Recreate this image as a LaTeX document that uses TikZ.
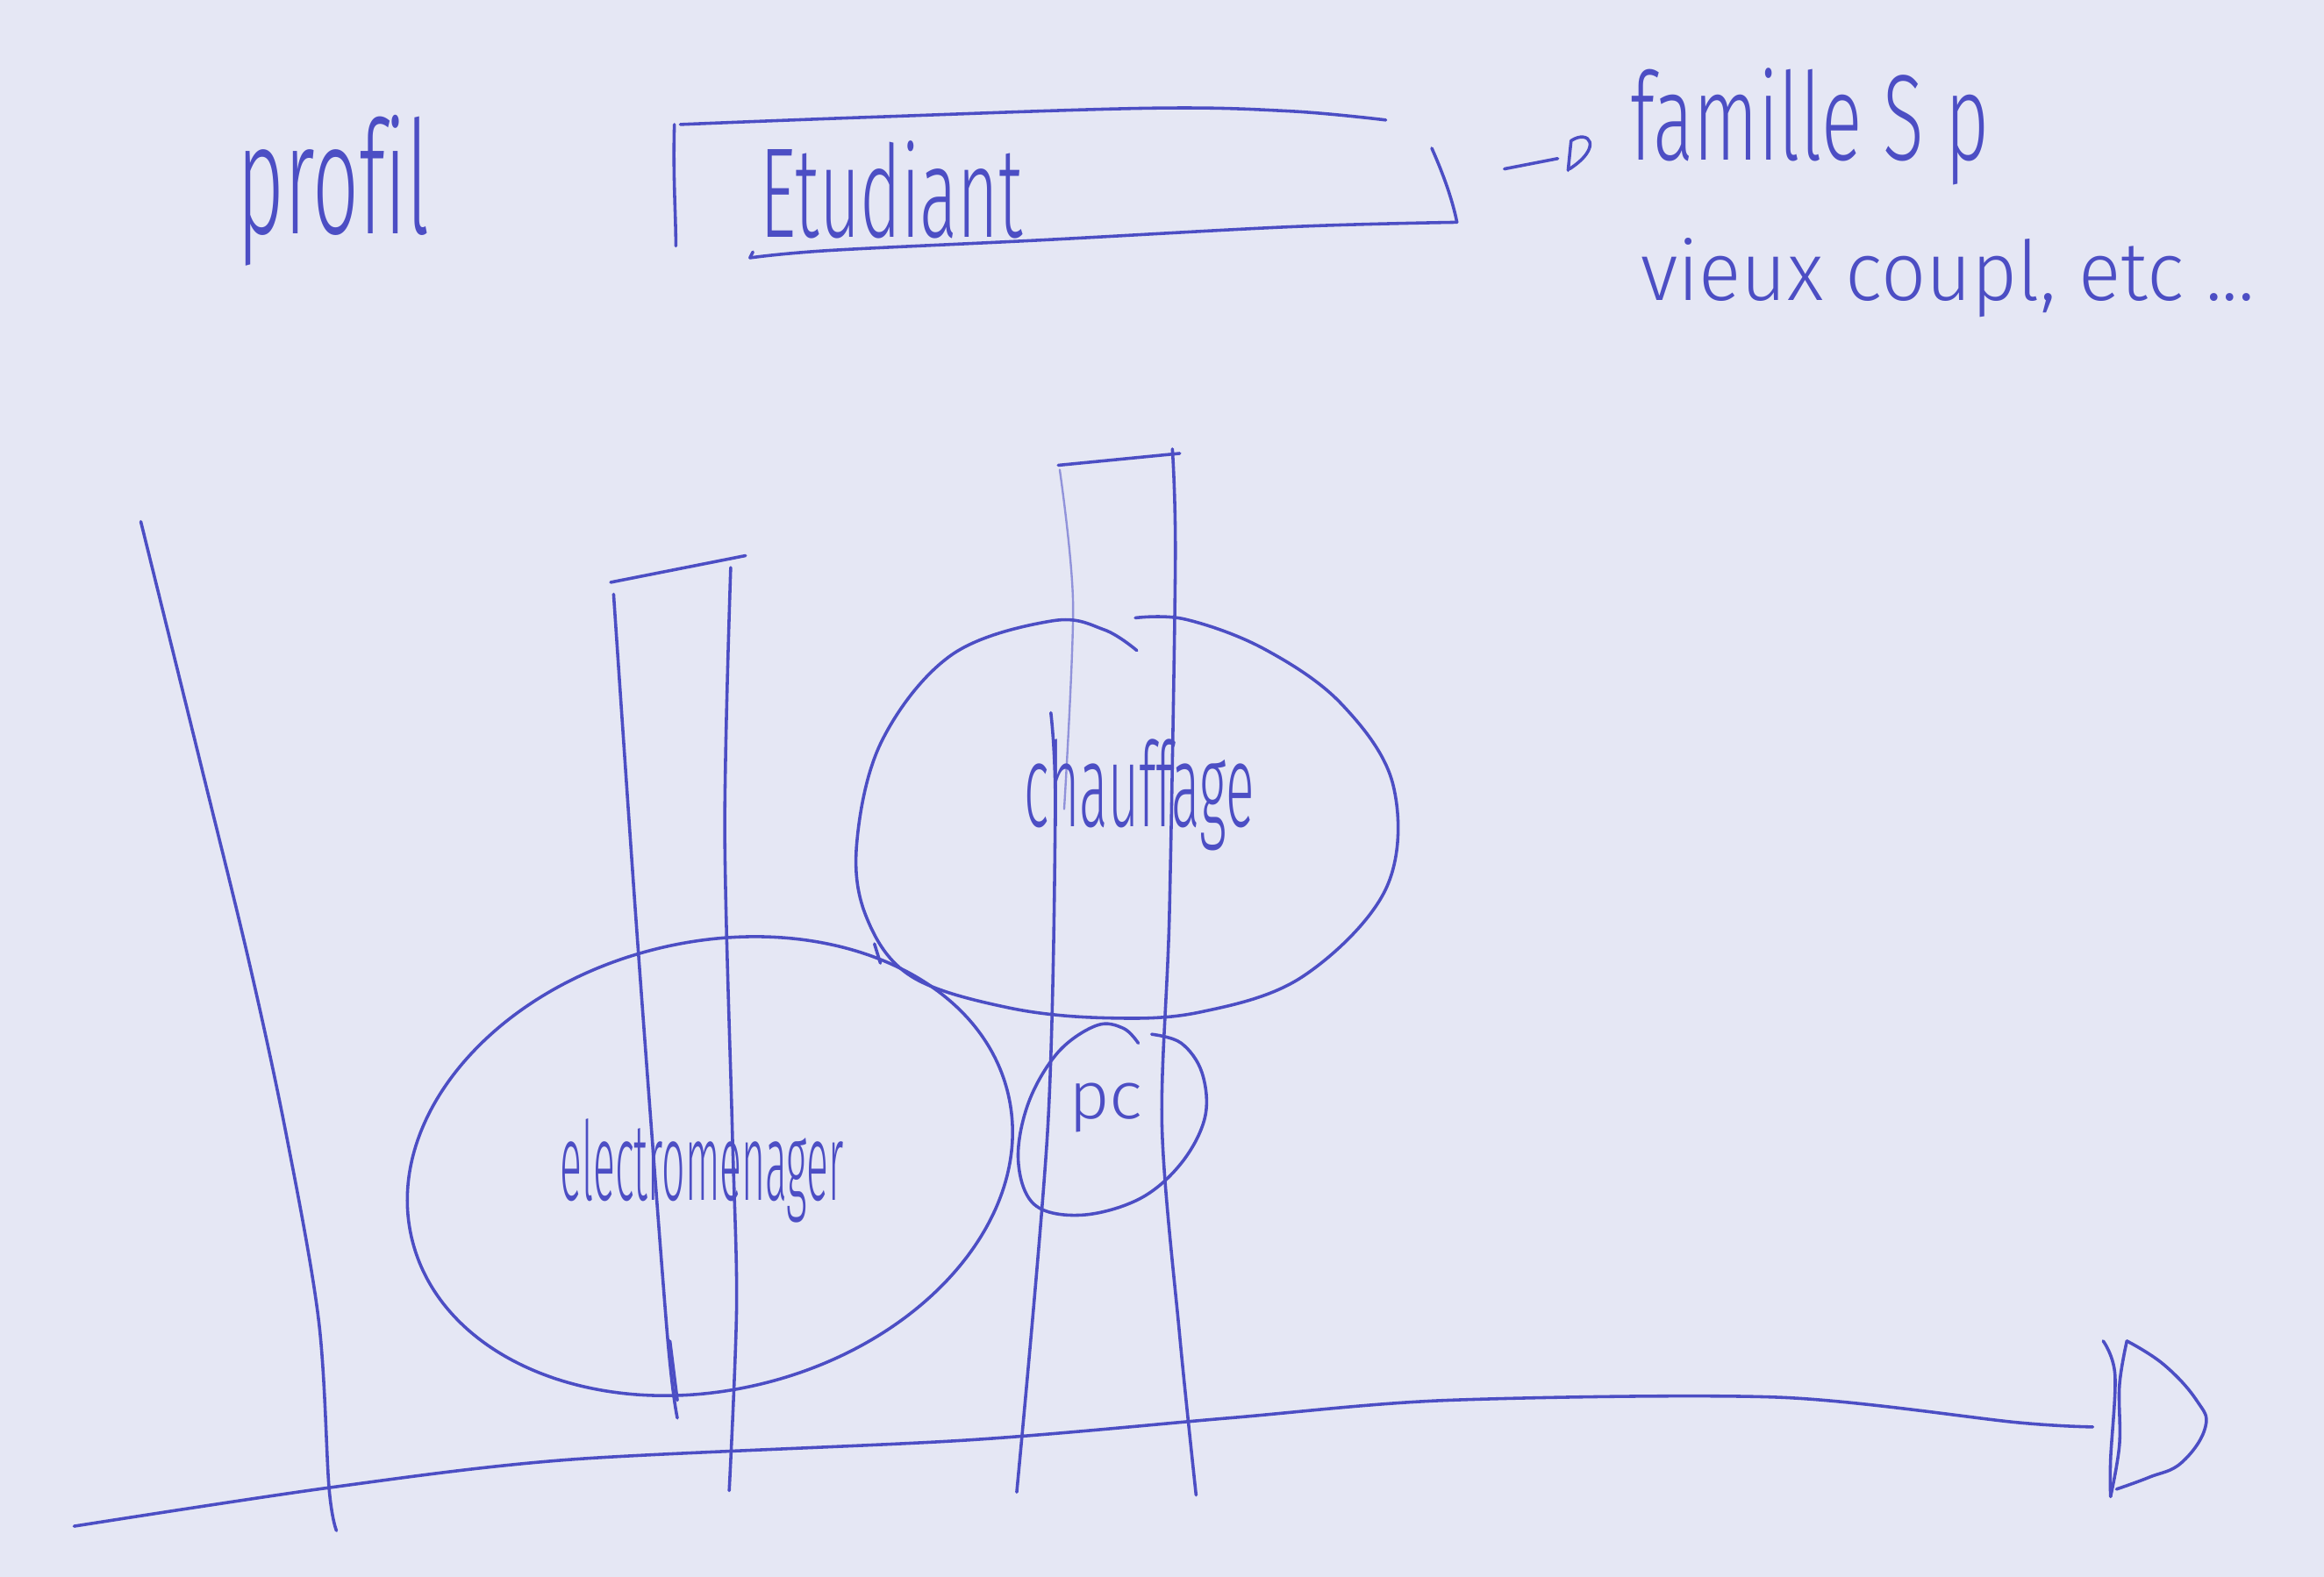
\documentclass[tikz,border=0pt]{standalone}
\usepackage{fontspec}
\setmainfont{Fira Sans Light}[Ligatures=CommonOff]
\definecolor{paper}{RGB}{229,231,244}
\definecolor{ink}{RGB}{76,78,196}
\tikzset{
  pen/.style={draw=ink, line width=0.6pt, line cap=round, line join=round},
  faintpen/.style={draw=ink!55!paper, line width=0.4pt, line cap=round},
  hand/.style={text=ink, inner sep=0pt, outer sep=0pt, anchor=base west},
}
% handwritten-looking label squeezed to a given width and height (cm)
\newcommand{\scribble}[3]{\resizebox{#1cm}{#2cm}{#3}}
\begin{document}
\begin{tikzpicture}[x=0.01cm, y=-0.01cm]
  \fill[paper] (0,0) rectangle (1568,1064);
  \useasboundingbox (0,0) rectangle (1568,1064);

  % ---- header: profile label and boxed example ----
  \node[hand] (profil) at (160,158) {\scribble{1.30}{0.80}{profil}};
  \node[hand] (etudiant) at (513,160) {\scribble{1.77}{0.65}{Etudiant}};
  \draw[pen] (455,84) .. controls (454,120) and (456,145) .. (456,166);
  \draw[pen] plot[smooth, tension=0.6] coordinates {(459,84) (589,79) (776,73) (870,75) (935,81)};
  \draw[pen] (966,100) .. controls (974,118) and (980,135) .. (983,150);
  \draw[pen] plot[smooth, tension=0.6] coordinates {(983,150) (872,153) (703,162) (560,169) (506,174)};
  \draw[pen] (506,174) -- (508,170);

  % hand-drawn arrow towards the other profiles
  \coordinate (arrA) at (1015,114);
  \coordinate (arrB) at (1051,107);
  \draw[pen] (arrA) -- (arrB);
  \draw[pen] (1058,115) -- (1060,95) .. controls (1072,87) and (1082,99) .. (1059,114);
  \node[hand] (famille) at (1100,108) {\scribble{2.42}{0.62}{famille S p}};
  \node[hand] (couple) at (1107,203) {\scribble{4.14}{0.42}{vieux coupl, etc ...}};

  % ---- axes ----
  \draw[pen] plot[smooth, tension=0.55] coordinates {(95,352) (136,518) (168,649) (193,765) (215,891) (222,1004) (227,1033)};
  \draw[pen] plot[smooth, tension=0.5] coordinates {(50,1030) (222,1004) (385,985) (651,972) (829,957) (977,945) (1200,943) (1361,960) (1412,963)};
  % open arrow head at the end of the horizontal axis
  \draw[pen] plot[smooth, tension=0.6] coordinates {(1419,905) (1427,928) (1424,985) (1424,1010)};
  \draw[pen] plot[smooth, tension=0.6] coordinates {(1424,1010) (1430,975) (1430,935) (1435,905)};
  \draw[pen] plot[smooth, tension=0.7] coordinates {(1435,905) (1460,921) (1482,945) (1488,963) (1472,987) (1450,997) (1428,1005)};

  % ---- first bar ----
  \draw[pen] (412,393) -- (503,375);
  \draw[pen] plot[smooth, tension=0.5] coordinates {(414,401) (430,633) (450,898) (457,957)};
  \draw[pen] (452,905) -- (457,945);
  \draw[pen] plot[smooth, tension=0.5] coordinates {(493,383) (489,560) (494,760) (497,880) (492,1006)};

  % ---- second bar ----
  \draw[pen] (714,314) -- (796,306);
  \draw[faintpen] plot[smooth, tension=0.5] coordinates {(715,317) (724,408) (718,546)};
  \draw[pen] plot[smooth, tension=0.5] coordinates {(709,481) (712,546) (707,760) (686,1007)};
  \draw[pen] plot[smooth, tension=0.5] coordinates {(791,303) (793,379) (789,617) (784,760) (796,902) (807,1009)};

  % ---- groups ----
  \draw[pen] plot[smooth, tension=0.6] coordinates {(766,417) (800,418) (853,438) (905,475) (940,530) (935,600) (879,659) (810,683) (747,687) (680,680) (615,659) (585,620) (578,570) (595,500) (642,442) (710,419) (745,425) (767,439)};
  \node[hand] (chauffage) at (691,558) {\scribble{1.55}{0.59}{chauffage}};

  \draw[pen, rotate around={14:(479,787)}] (479,787) ellipse [x radius=207, y radius=151];
  \draw[pen] (590,637) -- (594,650);
  \node[hand] (electro) at (378,810) {\scribble{1.91}{0.55}{electromenager}};

  \draw[pen] plot[smooth, tension=0.6] coordinates {(768,704) (758,694) (740,692) (714,710) (694,744) (687,783) (698,813) (730,820) (769,809) (797,785) (813,754) (811,724) (797,704) (777,698)};
  \node[hand] (pc) at (721,755) {\scribble{0.50}{0.24}{pc}};
\end{tikzpicture}
\end{document}
